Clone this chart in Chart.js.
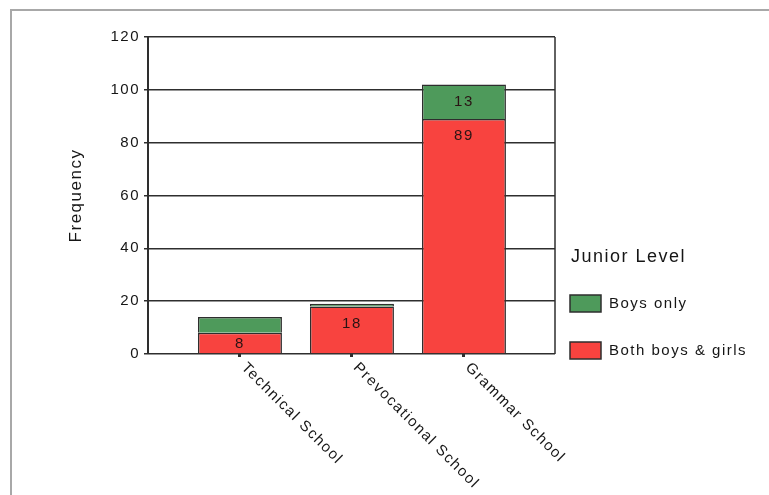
<!DOCTYPE html>
<html>
<head>
<meta charset="utf-8">
<script src="https://cdn.jsdelivr.net/npm/chart.js@4.4.1/dist/chart.umd.min.js"></script>
<style>
  html, body { margin: 0; padding: 0; background: #fff; }
  #wrap { position: relative; width: 769px; height: 495px; }
  #frame { position: absolute; left: 10px; top: 9px; right: 0; bottom: 0; border-top: 2px solid #a8a8a8; border-left: 2px solid #a8a8a8; pointer-events: none; }
  canvas { display: block; }
</style>
</head>
<body>
<div id="wrap">
  <canvas id="schoolChart" width="769" height="495"></canvas>
  <div id="frame"></div>
</div>
<script>
const schools = ['Technical School', 'Prevocational School', 'Grammar School'];
const bothBoysGirls = [8, 18, 89];
const boysOnly = [6, 1, 13];
const yMax = 120;
const yStep = 20;

const FONT = 'Arial, "Liberation Sans", sans-serif';
const INK = '#161616';
const EDGE = '#2e2e2e';
const TRACK = '1.5px';

const toPoints = (arr) => arr.map((v, i) => ({ x: i, y: v }));

// the old print typeface is widely tracked
const tracking = {
    id: 'tracking',
    beforeInit(chart) { chart.ctx.letterSpacing = TRACK; },
    beforeUpdate(chart) { chart.ctx.letterSpacing = TRACK; },
    beforeDraw(chart) { chart.ctx.letterSpacing = TRACK; }
};

// value labels sit near the top of each segment, skipped for thin slices
const segmentLabels = {
    id: 'segmentLabels',
    afterDatasetsDraw(chart) {
        const ctx = chart.ctx;
        ctx.save();
        ctx.font = '15px ' + FONT;
        ctx.fillStyle = '#2a1414';
        ctx.textAlign = 'center';
        ctx.textBaseline = 'middle';
        chart.data.datasets.forEach((ds, di) => {
            chart.getDatasetMeta(di).data.forEach((bar, i) => {
                const v = ds.data[i].y;
                if (v < 8) return;
                const top = Math.min(bar.y, bar.base), bottom = Math.max(bar.y, bar.base);
                const y = Math.min(top + 17, (top + bottom) / 2 + 1);
                ctx.fillText(String(v), bar.x, y);
            });
        });
        ctx.restore();
    }
};

// slanted category names under the axis, plus right edge of the plot frame
const schoolAxis = {
    id: 'schoolAxis',
    afterDraw(chart) {
        const ctx = chart.ctx;
        const xs = chart.scales.x;
        const area = chart.chartArea;
        ctx.save();
        ctx.strokeStyle = EDGE;
        ctx.lineWidth = 1.5;
        ctx.beginPath();
        ctx.moveTo(area.right, area.top);
        ctx.lineTo(area.right, area.bottom);
        ctx.stroke();

        ctx.font = '15px ' + FONT;
        ctx.fillStyle = INK;
        ctx.textAlign = 'left';
        ctx.textBaseline = 'top';
        schools.forEach((name, i) => {
            const px = xs.getPixelForValue(i);
            ctx.save();
            ctx.translate(px + 9, area.bottom + 6);
            ctx.rotate(Math.PI / 4);
            ctx.fillText(name, 0, 0);
            ctx.restore();
        });
        ctx.restore();
    }
};

const sideLegend = {
    id: 'sideLegend',
    afterDraw(chart) {
        const ctx = chart.ctx;
        const left = 570;
        ctx.save();
        ctx.fillStyle = INK;
        ctx.textBaseline = 'middle';
        ctx.textAlign = 'left';
        ctx.font = '18px ' + FONT;
        ctx.fillText('Junior Level', left + 1, 257);
        ctx.font = '15px ' + FONT;
        const items = chart.data.datasets.slice().reverse();
        items.forEach((ds, k) => {
            const cy = 303 + k * 47;
            ctx.fillStyle = ds.backgroundColor;
            ctx.fillRect(left, cy - 8, 31, 17);
            ctx.strokeStyle = EDGE;
            ctx.lineWidth = 1.5;
            ctx.strokeRect(left, cy - 8, 31, 17);
            ctx.fillStyle = INK;
            ctx.fillText(ds.label, left + 39, cy + 1);
        });
        ctx.restore();
    }
};

new Chart(document.getElementById('schoolChart'), {
    type: 'bar',
    data: {
        datasets: [
            { label: 'Both boys & girls', data: toPoints(bothBoysGirls), backgroundColor: '#f8433f', borderColor: EDGE, borderWidth: 1.5 },
            { label: 'Boys only', data: toPoints(boysOnly), backgroundColor: '#4e9a5b', borderColor: EDGE, borderWidth: 1.5 }
        ]
    },
    options: {
        responsive: false,
        animation: false,
        categoryPercentage: 1,
        barPercentage: 0.75,
        layout: { padding: { top: 37, right: 214, bottom: 0, left: 0 } },
        plugins: { legend: { display: false }, tooltip: { enabled: false } },
        scales: {
            x: {
                type: 'linear',
                stacked: true,
                offset: false,
                min: -0.821,
                max: 2.813,
                afterBuildTicks: (s) => { s.ticks = schools.map((_, i) => ({ value: i })); },
                afterFit: (s) => { s.height = 141; },
                ticks: { display: false },
                grid: { offset: false, drawOnChartArea: false, drawTicks: true, tickLength: 3, color: EDGE, lineWidth: 3 },
                border: { display: false }
            },
            y: {
                stacked: true,
                min: 0,
                max: yMax,
                afterFit: (s) => { s.width = 148; },
                ticks: { stepSize: yStep, color: INK, font: { family: FONT, size: 15 }, padding: 4 },
                grid: { color: EDGE, lineWidth: 1.5, tickLength: 4 },
                border: { color: EDGE, width: 2 },
                title: { display: true, text: 'Frequency', color: INK, font: { family: FONT, size: 17 }, padding: { top: 66, bottom: 0 } }
            }
        }
    },
    plugins: [tracking, segmentLabels, schoolAxis, sideLegend]
});
</script>
</body>
</html>
